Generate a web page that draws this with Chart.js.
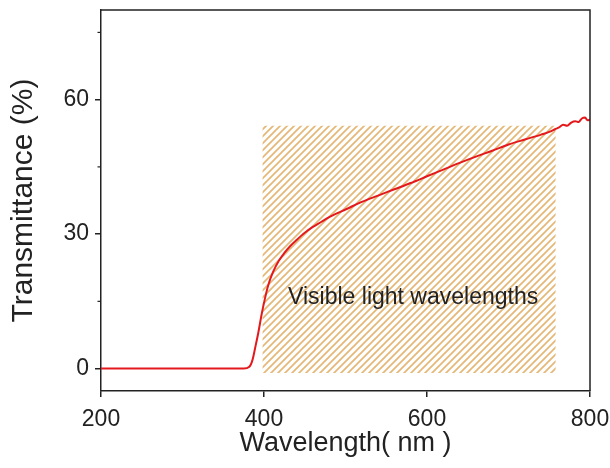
<!DOCTYPE html>
<html>
<head>
<meta charset="utf-8">
<script src="https://cdn.jsdelivr.net/npm/chart.js@4/dist/chart.umd.min.js"></script>
<style>
  html, body { margin: 0; padding: 0; background: #fff; }
  #wrap { width: 610px; height: 468px; }
</style>
</head>
<body>
<div id="wrap"><canvas id="chart" width="610" height="468"></canvas></div>
<script>
// ── DATA ──
const wavelengths = [200, 250, 300, 350, 375, 382, 386, 389, 393, 397, 401, 405, 411, 418, 425, 432, 440, 450, 460, 470, 480, 490, 500, 520, 540, 560, 580, 600, 620, 640, 660, 680, 700, 720, 740, 750, 757, 762, 767, 772, 777, 782, 786, 790, 794, 797, 800];
const transmittance = [0, 0, 0, 0, 0, 0.4, 2, 4.5, 8, 12, 15.5, 18.5, 21.5, 24, 25.8, 27.3, 28.7, 30.3, 31.6, 32.7, 33.8, 34.7, 35.5, 37.2, 38.6, 40, 41.4, 42.9, 44.4, 45.9, 47.3, 48.6, 50, 51.1, 52.2, 52.8, 53.4, 53.8, 54.4, 54.2, 54.9, 55.2, 55.0, 55.8, 56.0, 55.4, 55.5];

// visible band (hatched box)
const visibleRange = [398, 758];
const visibleTop = 54.2;
const visibleBottom = -1;
const visibleLabel = 'Visible light wavelengths';

const xTicks = [200, 400, 600, 800];
const yTicks = [0, 30, 60];
const yMinorTicks = [15, 45, 75];

const AXIS = '#222';
const FONT = "'Liberation Sans', Arial, sans-serif";

function makeHatch() {
  const s = 7;
  const c = document.createElement('canvas');
  c.width = s; c.height = s;
  const g = c.getContext('2d');
  g.strokeStyle = '#e5b877';
  g.lineWidth = 1.7;
  g.beginPath();
  g.moveTo(-1, s + 1); g.lineTo(s + 1, -1);
  g.moveTo(-1, 1); g.lineTo(1, -1);
  g.moveTo(s - 1, s + 1); g.lineTo(s + 1, s - 1);
  g.stroke();
  return g.createPattern(c, 'repeat');
}

// frame, minor ticks and band label
const framePlugin = {
  id: 'frame',
  afterDatasetsDraw(chart) {
    const { ctx, chartArea: a, scales } = chart;
    ctx.save();
    ctx.strokeStyle = AXIS;
    ctx.lineWidth = 1.5;
    ctx.beginPath();
    ctx.moveTo(a.left, a.top); ctx.lineTo(a.right, a.top); ctx.lineTo(a.right, a.bottom);
    ctx.stroke();

    ctx.lineWidth = 1.2;
    yMinorTicks.forEach(v => {
      const y = scales.y.getPixelForValue(v);
      ctx.beginPath(); ctx.moveTo(a.left - 3.5, y); ctx.lineTo(a.left, y); ctx.stroke();
    });

    ctx.fillStyle = '#222';
    ctx.font = `23px ${FONT}`;
    ctx.textAlign = 'center';
    ctx.textBaseline = 'middle';
    ctx.fillText(visibleLabel, scales.x.getPixelForValue(583), scales.y.getPixelForValue(15.8));
    ctx.restore();
  }
};

new Chart(document.getElementById('chart'), {
  type: 'line',
  data: {
    datasets: [
      {
        label: 'Transmittance',
        data: wavelengths.map((w, i) => ({ x: w, y: transmittance[i] })),
        borderColor: '#e3191c',
        borderWidth: 2,
        pointRadius: 0,
        cubicInterpolationMode: 'monotone',
        fill: false,
        order: 0
      },
      {
        label: 'Visible',
        data: visibleRange.map(w => ({ x: w, y: visibleTop })),
        borderWidth: 0,
        borderColor: 'rgba(0,0,0,0)',
        backgroundColor: makeHatch(),
        pointRadius: 0,
        fill: { value: visibleBottom },
        order: 1
      }
    ]
  },
  options: {
    responsive: false,
    animation: false,
    layout: { padding: { top: 10, right: 20, left: 0, bottom: 0 } },
    plugins: { legend: { display: false }, tooltip: { enabled: false } },
    scales: {
      x: {
        type: 'linear',
        min: 200, max: 800,
        afterBuildTicks: s => { s.ticks = xTicks.map(v => ({ value: v })); },
        afterFit: s => { s.height = 77; s.paddingLeft = 0; s.paddingRight = 0; },
        border: { display: true, color: AXIS, width: 1.5 },
        grid: { drawOnChartArea: false, drawTicks: true, tickLength: 6, color: AXIS, lineWidth: 1.5 },
        ticks: { color: '#222', font: { family: FONT, size: 23 }, padding: 9, maxRotation: 0 },
        title: { display: true, text: 'Wavelength( nm )', color: '#222', font: { family: FONT, size: 27 }, padding: { top: 0, bottom: 8 } }
      },
      y: {
        min: -5, max: 80,
        afterBuildTicks: s => { s.ticks = yTicks.map(v => ({ value: v })); },
        afterFit: s => { s.width = 101; s.paddingTop = 0; s.paddingBottom = 0; },
        border: { display: true, color: AXIS, width: 1.5 },
        grid: { drawOnChartArea: false, drawTicks: true, tickLength: 6, color: AXIS, lineWidth: 1.5 },
        ticks: { color: '#222', font: { family: FONT, size: 23 }, padding: 6 },
        title: { display: true, text: 'Transmittance (%)', color: '#222', font: { family: FONT, size: 30 }, padding: { top: 6, bottom: 0 } }
      }
    }
  },
  plugins: [framePlugin]
});
</script>
</body>
</html>
